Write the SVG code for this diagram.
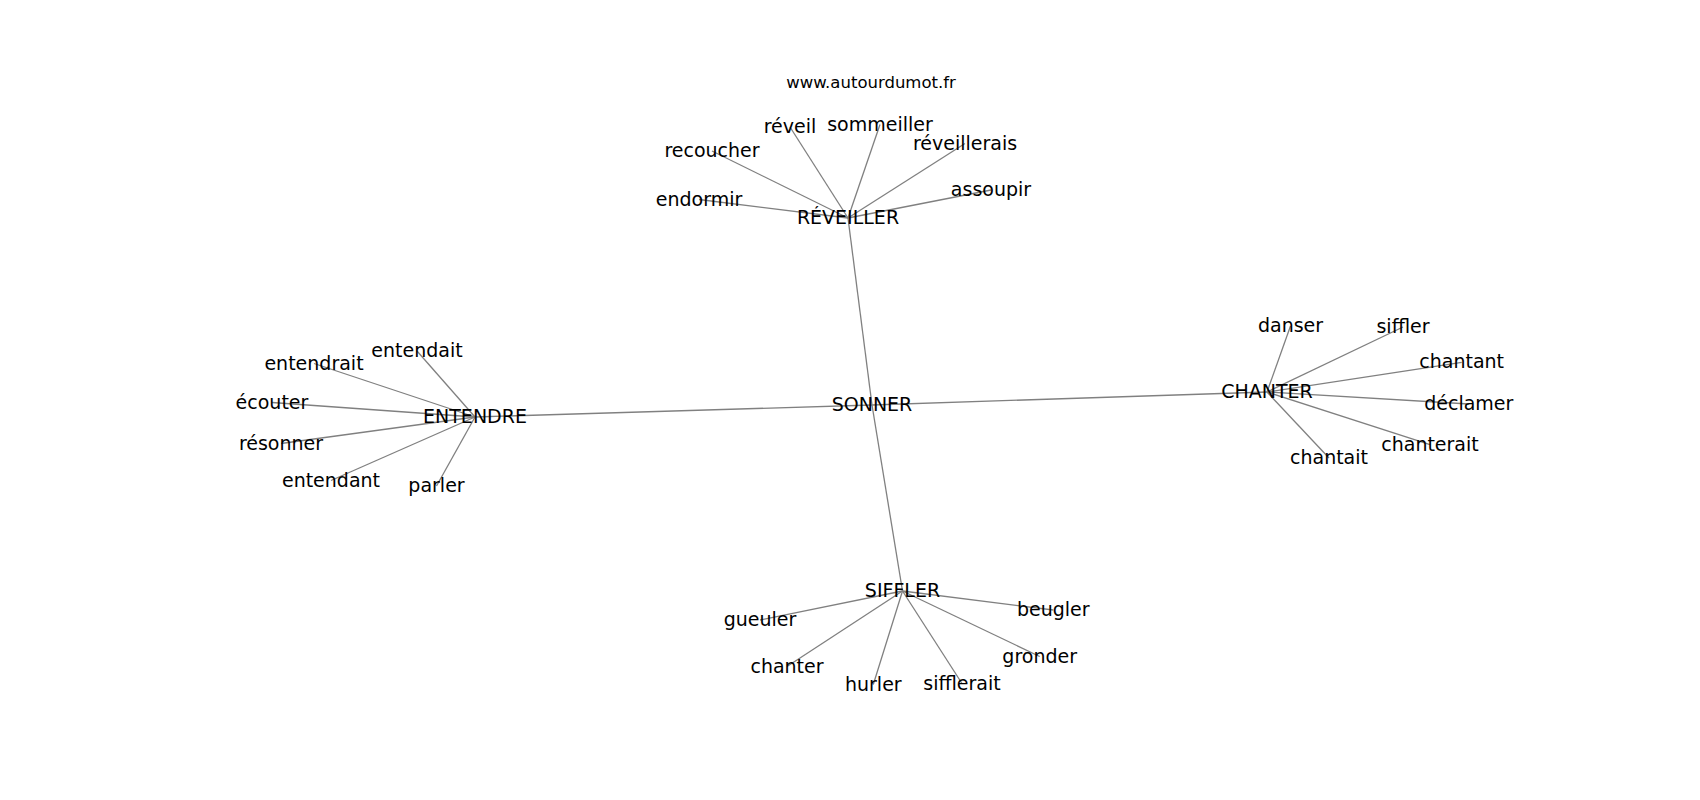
<svg xmlns="http://www.w3.org/2000/svg" width="1700" height="800" viewBox="0 0 1700 800">
<style>
.e{stroke:#808080;stroke-width:1.3;fill:none}
text{font-family:"DejaVu Sans",sans-serif;font-size:19px;fill:#000;text-anchor:middle}
.t{font-size:16.5px}
</style>
<rect width="1700" height="800" fill="#fff"/>
<g id="edges">
<line class="e" x1="872" y1="405" x2="848" y2="218"/>
<line class="e" x1="872" y1="405" x2="475" y2="417"/>
<line class="e" x1="872" y1="405" x2="1267" y2="392"/>
<line class="e" x1="872" y1="405" x2="902.5" y2="591"/>
<line class="e" x1="848" y1="218" x2="790" y2="127"/>
<line class="e" x1="848" y1="218" x2="880" y2="124.5"/>
<line class="e" x1="848" y1="218" x2="712" y2="151"/>
<line class="e" x1="848" y1="218" x2="965" y2="143.5"/>
<line class="e" x1="848" y1="218" x2="699" y2="199.5"/>
<line class="e" x1="848" y1="218" x2="991" y2="190"/>
<line class="e" x1="475" y1="417" x2="417" y2="351"/>
<line class="e" x1="475" y1="417" x2="314" y2="363.5"/>
<line class="e" x1="475" y1="417" x2="272" y2="402.5"/>
<line class="e" x1="475" y1="417" x2="281" y2="443.5"/>
<line class="e" x1="475" y1="417" x2="331" y2="480.5"/>
<line class="e" x1="475" y1="417" x2="436.5" y2="486"/>
<line class="e" x1="1267" y1="392" x2="1290.5" y2="326"/>
<line class="e" x1="1267" y1="392" x2="1403" y2="327"/>
<line class="e" x1="1267" y1="392" x2="1461.7" y2="362.3"/>
<line class="e" x1="1267" y1="392" x2="1468.8" y2="404"/>
<line class="e" x1="1267" y1="392" x2="1430" y2="444.7"/>
<line class="e" x1="1267" y1="392" x2="1329" y2="458"/>
<line class="e" x1="902.5" y1="591" x2="760" y2="620"/>
<line class="e" x1="902.5" y1="591" x2="787" y2="666.5"/>
<line class="e" x1="902.5" y1="591" x2="873.3" y2="684.5"/>
<line class="e" x1="902.5" y1="591" x2="962" y2="683.5"/>
<line class="e" x1="902.5" y1="591" x2="1039.7" y2="656.5"/>
<line class="e" x1="902.5" y1="591" x2="1053.3" y2="610"/>
</g>
<text class="t" x="871" y="88">www.autourdumot.fr</text>
<g id="SONNER"><text x="872" y="411">SONNER</text></g>
<g id="REVEILLER"><text x="848" y="224">RÉVEILLER</text></g>
<g id="reveil"><text x="790" y="133">réveil</text></g>
<g id="sommeiller"><text x="880" y="130.5">sommeiller</text></g>
<g id="recoucher"><text x="712" y="157">recoucher</text></g>
<g id="reveillerais"><text x="965" y="149.5">réveillerais</text></g>
<g id="endormir"><text x="699" y="205.5">endormir</text></g>
<g id="assoupir"><text x="991" y="196">assoupir</text></g>
<g id="ENTENDRE"><text x="475" y="423">ENTENDRE</text></g>
<g id="entendait"><text x="417" y="357">entendait</text></g>
<g id="entendrait"><text x="314" y="369.5">entendrait</text></g>
<g id="ecouter"><text x="272" y="408.5">écouter</text></g>
<g id="resonner"><text x="281" y="449.5">résonner</text></g>
<g id="entendant"><text x="331" y="486.5">entendant</text></g>
<g id="parler"><text x="436.5" y="492">parler</text></g>
<g id="CHANTER"><text x="1267" y="398">CHANTER</text></g>
<g id="danser"><text x="1290.5" y="332">danser</text></g>
<g id="siffler"><text x="1403" y="333">siffler</text></g>
<g id="chantant"><text x="1461.7" y="368.3">chantant</text></g>
<g id="declamer"><text x="1468.8" y="410">déclamer</text></g>
<g id="chanterait"><text x="1430" y="450.7">chanterait</text></g>
<g id="chantait"><text x="1329" y="464">chantait</text></g>
<g id="SIFFLER"><text x="902.5" y="597">SIFFLER</text></g>
<g id="gueuler"><text x="760" y="626">gueuler</text></g>
<g id="chanter"><text x="787" y="672.5">chanter</text></g>
<g id="hurler"><text x="873.3" y="690.5">hurler</text></g>
<g id="sifflerait"><text x="962" y="689.5">sifflerait</text></g>
<g id="gronder"><text x="1039.7" y="662.5">gronder</text></g>
<g id="beugler"><text x="1053.3" y="616">beugler</text></g>
</svg>
